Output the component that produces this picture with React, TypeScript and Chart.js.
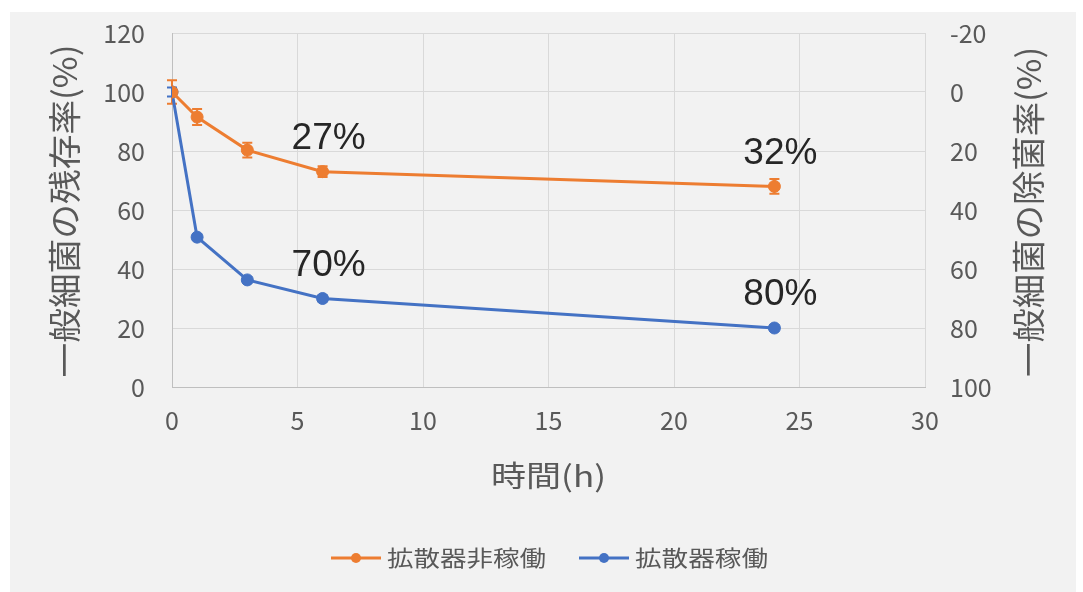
import React, { useEffect, useRef } from "react";
import { Chart, registerables } from "chart.js";

Chart.register(...registerables);

// Sampling times (h)
const hours = [0, 1, 3, 6, 24];
// Residual rate of general bacteria (%) and error ranges
const idleResidual = [100, 91.5, 80.3, 73, 68];
const idleError = [4, 2.7, 2.5, 1.8, 2.5];
const activeResidual = [100, 50.8, 36.3, 30, 20];
const activeError = [1.5, 1, 1, 1, 1];

const seriesNames = ["拡散器非稼働", "拡散器稼働"];
const seriesColors = ["#ED7D31", "#4472C4"];
// Points whose removal rate is written next to them
const labeledIndices = [3, 4];

const leftTitle = "一般細菌の残存率(%)";
const rightTitle = "一般細菌の除菌率(%)";
const xTitle = "時間(h)";

const JP = "'Noto Sans CJK JP', 'Noto Sans', sans-serif";
const TEXT_GRAY = "#595959";

function fitText(
  ctx: CanvasRenderingContext2D,
  text: string,
  x: number,
  y: number,
  width: number,
  size: number,
  family: string,
  color: string,
  rotate = 0
) {
  ctx.save();
  ctx.font = `${size}px ${family}`;
  const w = ctx.measureText(text).width;
  ctx.translate(x, y);
  ctx.rotate(rotate);
  ctx.scale(width / w, 1);
  ctx.textAlign = "center";
  ctx.textBaseline = "middle";
  ctx.fillStyle = color;
  ctx.fillText(text, 0, 0);
  ctx.restore();
}

// Fixed axis box sizes; edge label overflow is absorbed by the layout padding
function fixBox(size: { width?: number; height?: number }) {
  return (s: any) => {
    if (size.width !== undefined) s.width = size.width;
    if (size.height !== undefined) s.height = size.height;
    s.paddingTop = 0;
    s.paddingBottom = 0;
    s.paddingLeft = 0;
    s.paddingRight = 0;
  };
}

const decorPlugin = {
  id: "decor",
  beforeDraw(chart: any) {
    const { ctx, width, height } = chart;
    ctx.save();
    ctx.fillStyle = "#ffffff";
    ctx.fillRect(0, 0, width, height);
    ctx.fillStyle = "#f2f2f2";
    ctx.fillRect(10, 12, 1066, 580);
    ctx.restore();
  },
  beforeDatasetsDraw(chart: any) {
    const { ctx } = chart;
    const yScale = chart.scales.y;
    const errors = [idleError, activeError];
    ctx.save();
    chart.data.datasets.forEach((ds: any, i: number) => {
      const meta = chart.getDatasetMeta(i);
      ctx.strokeStyle = ds.borderColor;
      ctx.lineWidth = 2;
      meta.data.forEach((pt: any, j: number) => {
        const v = ds.data[j].y;
        const e = errors[i][j];
        const top = yScale.getPixelForValue(v + e);
        const bot = yScale.getPixelForValue(v - e);
        ctx.beginPath();
        ctx.moveTo(pt.x, top);
        ctx.lineTo(pt.x, bot);
        ctx.moveTo(pt.x - 5, top);
        ctx.lineTo(pt.x + 5, top);
        ctx.moveTo(pt.x - 5, bot);
        ctx.lineTo(pt.x + 5, bot);
        ctx.stroke();
      });
    });
    ctx.restore();
  },
  afterDatasetsDraw(chart: any) {
    const { ctx } = chart;
    ctx.save();
    ctx.font = "37px 'Liberation Sans', Arial, sans-serif";
    ctx.fillStyle = "#262626";
    ctx.textAlign = "center";
    ctx.textBaseline = "middle";
    chart.data.datasets.forEach((ds: any, i: number) => {
      const meta = chart.getDatasetMeta(i);
      labeledIndices.forEach((j) => {
        const pt = meta.data[j];
        const removal = Math.round(100 - ds.data[j].y);
        ctx.fillText(`${removal}%`, pt.x + 6, pt.y - 33);
      });
    });
    ctx.restore();
  },
  afterDraw(chart: any) {
    const { ctx, chartArea } = chart;
    const midY = (chartArea.top + chartArea.bottom) / 2;
    const midX = (chartArea.left + chartArea.right) / 2;

    // Axis titles
    fitText(ctx, leftTitle, 64, midY + 1, 333, 33, JP, TEXT_GRAY, -Math.PI / 2);
    fitText(ctx, rightTitle, 1028, midY + 2, 330, 33, JP, TEXT_GRAY, -Math.PI / 2);
    fitText(ctx, xTitle, midX, 476, 115, 29, JP, TEXT_GRAY);

    // Legend
    const legendY = 558;
    const lineLen = 50;
    const gapText = 6;
    const gapItems = 33;
    const textWidths = [159, 133];
    const total =
      textWidths.reduce((a, b) => a + b, 0) + 2 * (lineLen + gapText) + gapItems;
    let x = midX + 1 - total / 2;
    chart.data.datasets.forEach((ds: any, i: number) => {
      ctx.save();
      ctx.strokeStyle = ds.borderColor;
      ctx.lineWidth = 3;
      ctx.beginPath();
      ctx.moveTo(x, legendY);
      ctx.lineTo(x + lineLen, legendY);
      ctx.stroke();
      ctx.fillStyle = ds.borderColor;
      ctx.beginPath();
      ctx.arc(x + lineLen / 2, legendY, 5, 0, Math.PI * 2);
      ctx.fill();
      ctx.restore();
      x += lineLen + gapText;
      fitText(ctx, ds.label, x + textWidths[i] / 2, legendY, textWidths[i], 22, JP, TEXT_GRAY);
      x += textWidths[i] + gapItems;
    });
  },
};

export default function App() {
  const canvasRef = useRef<HTMLCanvasElement | null>(null);

  useEffect(() => {
    const canvas = canvasRef.current;
    if (!canvas) return;
    const series = [idleResidual, activeResidual];
    const tickFont = { family: JP, size: 25 };
    const chart = new Chart(canvas, {
      type: "line",
      data: {
        datasets: series.map((vals, i) => ({
          label: seriesNames[i],
          data: hours.map((h, j) => ({ x: h, y: vals[j] })),
          borderColor: seriesColors[i],
          backgroundColor: seriesColors[i],
          pointBackgroundColor: seriesColors[i],
          pointBorderColor: seriesColors[i],
          borderWidth: 3,
          pointRadius: 6,
          pointBorderWidth: 1,
          tension: 0,
          yAxisID: "y",
        })),
      },
      options: {
        responsive: false,
        animation: false,
        devicePixelRatio: 1,
        layout: { padding: { top: 33, left: 0, right: 0, bottom: 0 } },
        plugins: {
          legend: { display: false },
          tooltip: { enabled: false },
        },
        scales: {
          x: {
            type: "linear",
            min: 0,
            max: 30,
            ticks: { stepSize: 5, color: TEXT_GRAY, font: tickFont, padding: 18 },
            grid: { color: "#d9d9d9", drawTicks: false, lineWidth: 1 },
            border: { color: "#bfbfbf", width: 1 },
            afterFit: fixBox({ height: 205 }),
          },
          y: {
            position: "left",
            min: 0,
            max: 120,
            ticks: { stepSize: 20, color: TEXT_GRAY, font: tickFont, padding: 27 },
            grid: { color: "#d9d9d9", drawTicks: false, lineWidth: 1 },
            border: { color: "#bfbfbf", width: 1 },
            afterFit: fixBox({ width: 172 }),
          },
          y2: {
            position: "right",
            min: -20,
            max: 100,
            reverse: true,
            ticks: { stepSize: 20, color: TEXT_GRAY, font: tickFont, padding: 25 },
            grid: { display: false, drawTicks: false },
            border: { display: false },
            afterFit: fixBox({ width: 158 }),
          },
        },
      } as any,
      plugins: [decorPlugin],
    });
    return () => chart.destroy();
  }, []);

  return (
    <div style={{ position: "fixed", left: 0, top: 0, width: 1083, height: 592 }}>
      <canvas ref={canvasRef} width={1083} height={592} style={{ display: "block" }} />
    </div>
  );
}
